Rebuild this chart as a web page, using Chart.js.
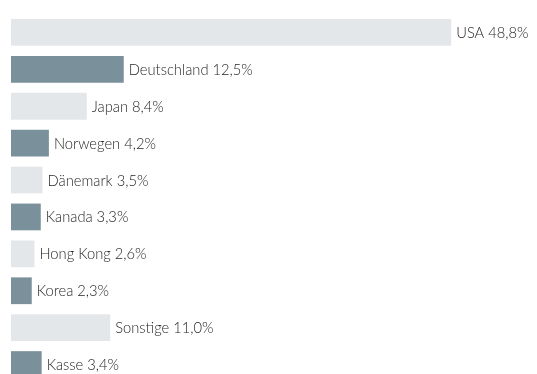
<!DOCTYPE html>
<html lang="de">
<head>
<meta charset="utf-8">
<title>Länderanteile</title>
<script src="https://cdn.jsdelivr.net/npm/chart.js@4/dist/chart.umd.min.js"></script>
<style>
  html, body { margin: 0; padding: 0; background: #fff; overflow: hidden; }
  #wrap { position: relative; width: 537px; height: 383px; }
</style>
</head>
<body>
<div id="wrap"><canvas id="barChart"></canvas></div>
<script>
// Länder und Anteile in Prozent
const countries = ['USA', 'Deutschland', 'Japan', 'Norwegen', 'Dänemark', 'Kanada', 'Hong Kong', 'Korea', 'Sonstige', 'Kasse'];
const shares = [48.8, 12.5, 8.4, 4.2, 3.5, 3.3, 2.6, 2.3, 11.0, 3.4];

const lightGrey = '#e4e7ea';
const slate = '#7a909a';

// alternating bar colours: light, dark, light, ...
const barColors = countries.map((_, i) => (i % 2 === 0 ? lightGrey : slate));

// writes "Name xx,x%" right after the end of each bar
const endLabels = {
  id: 'endLabels',
  afterDatasetsDraw(chart) {
    const { ctx } = chart;
    const meta = chart.getDatasetMeta(0);
    const squeeze = 0.92; // slightly condensed lettering
    ctx.save();
    ctx.font = '300 16px Lato, "Open Sans", sans-serif';
    ctx.fillStyle = '#262626';
    ctx.textBaseline = 'alphabetic';
    ctx.textAlign = 'left';
    meta.data.forEach((bar, i) => {
      const txt = countries[i] + ' ' + shares[i].toFixed(1).replace('.', ',') + '%';
      ctx.save();
      ctx.translate(bar.x + 5, bar.y + 5.5);
      ctx.scale(squeeze, 1);
      ctx.fillText(txt, 0, 0);
      ctx.restore();
    });
    ctx.restore();
  }
};

const ctx = document.getElementById('barChart').getContext('2d');

const myChart = new Chart(ctx, {
  type: 'bar',
  data: {
    labels: countries,
    datasets: [{
      data: shares,
      backgroundColor: barColors,
      borderWidth: 0,
      barPercentage: 0.725,
      categoryPercentage: 1
    }]
  },
  options: {
    indexAxis: 'y',
    responsive: true,
    maintainAspectRatio: false,
    animation: false,
    layout: { padding: { left: 11, right: 75, top: 14, bottom: 0 } },
    plugins: {
      legend: { display: false },
      tooltip: { enabled: false }
    },
    scales: {
      x: { min: 0, max: 50, display: false },
      y: { display: false }
    }
  },
  plugins: [endLabels]
});
</script>
</body>
</html>
